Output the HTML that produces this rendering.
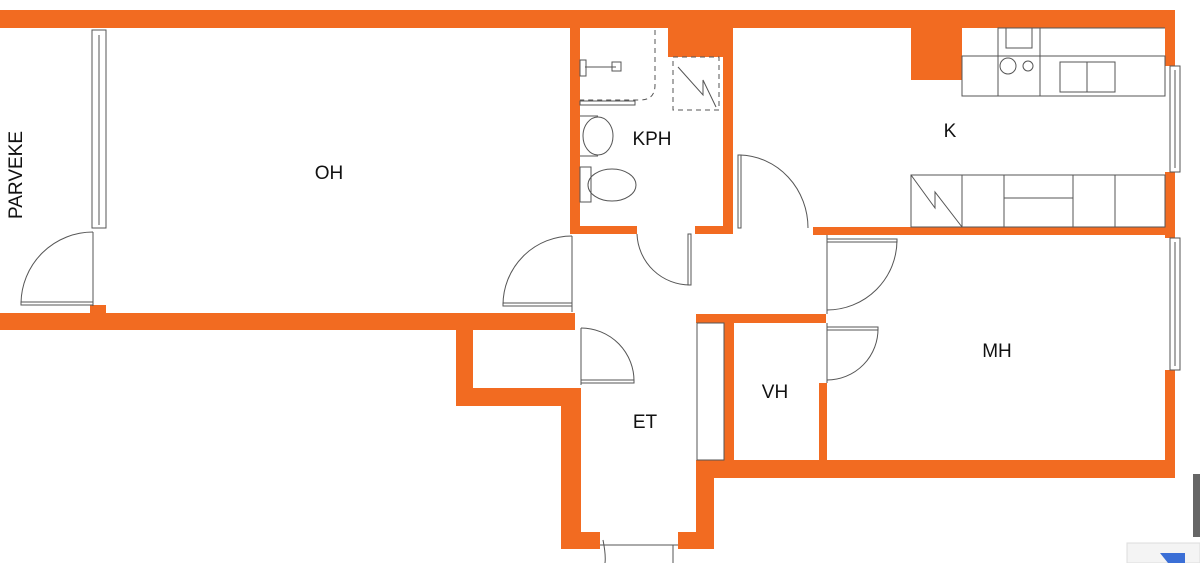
<!DOCTYPE html>
<html><head><meta charset="utf-8"><style>
html,body{margin:0;padding:0;background:#fff;width:1200px;height:563px;overflow:hidden}
svg{display:block}
text{font-family:"Liberation Sans",sans-serif;font-size:19px;fill:#111}
</style></head><body>
<svg width="1200" height="563" viewBox="0 0 1200 563" xmlns="http://www.w3.org/2000/svg">
<g fill="#F26B21">
<!-- top wall -->
<rect x="0" y="10" width="1175" height="18"/>
<!-- right wall pieces -->
<rect x="1165" y="10" width="10" height="56"/>
<rect x="1165" y="172" width="10" height="66"/>
<rect x="1165" y="370" width="10" height="108"/>
<!-- OH bottom wall -->
<rect x="0" y="313" width="575" height="17"/>
<rect x="90" y="305" width="16" height="10"/>
<!-- closet -->
<rect x="456" y="313" width="17" height="93"/>
<rect x="456" y="388" width="125" height="18"/>
<!-- ET left wall -->
<rect x="561" y="388" width="20" height="161"/>
<rect x="561" y="532" width="39" height="17"/>
<!-- ET right wall -->
<rect x="696" y="460" width="18" height="89"/>
<rect x="678" y="532" width="36" height="17"/>
<!-- bottom wall MH -->
<rect x="696" y="460" width="479" height="18"/>
<!-- VH -->
<rect x="696" y="314" width="130" height="9"/>
<rect x="724" y="314" width="10" height="146"/>
<rect x="819" y="383" width="8" height="77"/>
<!-- KPH -->
<rect x="570" y="10" width="10" height="224"/>
<rect x="723" y="10" width="10" height="224"/>
<rect x="668" y="10" width="65" height="47"/>
<rect x="570" y="226" width="67" height="8"/>
<rect x="695" y="226" width="38" height="8"/>
<!-- kitchen -->
<rect x="911" y="10" width="51" height="70"/>
<rect x="813" y="227" width="362" height="8"/>
</g>
<g fill="none" stroke="#555" stroke-width="1">
<!-- balcony window + door -->
<rect x="92" y="30" width="14" height="198"/>
<line x1="99" y1="35" x2="99" y2="225"/>
<line x1="93" y1="232" x2="93" y2="306"/>
<path d="M93 232 A72 72 0 0 0 21 303"/>
<rect x="21" y="302" width="72" height="3"/>
<!-- OH-ET door -->
<line x1="572" y1="236" x2="572" y2="312"/>
<path d="M572 236 A69 69 0 0 0 503 305"/>
<rect x="503" y="303" width="69" height="3"/>
<!-- closet door -->
<line x1="581" y1="328" x2="581" y2="385"/>
<path d="M581 328 A53 53 0 0 1 634 382"/>
<rect x="581" y="380" width="53" height="3"/>
<!-- KPH door -->
<path d="M637 234 A53 53 0 0 0 690 285"/>
<rect x="688" y="234" width="3" height="51"/>
<!-- kitchen door -->
<rect x="738" y="155" width="3" height="73"/>
<path d="M740 155 A70 73 0 0 1 808 228"/>
<!-- MH door -->
<line x1="827" y1="235" x2="827" y2="314"/>
<rect x="827" y="239" width="70" height="3"/>
<path d="M897 240 A70 70 0 0 1 827 310"/>
<!-- VH/MH door -->
<line x1="827" y1="323" x2="827" y2="383"/>
<rect x="827" y="327" width="51" height="3"/>
<path d="M878 328 A51 51 0 0 1 827 380"/>
<!-- wardrobe -->
<rect x="697" y="323" width="27" height="137"/>
<!-- entrance -->
<line x1="600" y1="545" x2="678" y2="545"/>
<path d="M603 540 Q606 555 605 563"/>
<line x1="673" y1="545" x2="673" y2="563"/>
<!-- right windows -->
<rect x="1170" y="66" width="10" height="106"/>
<rect x="1170" y="238" width="10" height="132"/>
<line x1="1175" y1="70" x2="1175" y2="168"/>
<line x1="1175" y1="242" x2="1175" y2="366"/>
<!-- kitchen upper counter -->
<rect x="962" y="56" width="203" height="40"/>
<rect x="998" y="28" width="42" height="68"/>
<rect x="1006" y="28" width="26" height="20"/>
<circle cx="1008" cy="66" r="8"/><circle cx="1028" cy="66" r="5"/>
<line x1="1040" y1="56" x2="1165" y2="56"/>
<line x1="1040" y1="28" x2="1165" y2="28"/>
<rect x="1060" y="62" width="55" height="30"/>
<line x1="1087" y1="62" x2="1087" y2="92"/>
<!-- kitchen lower counter -->
<rect x="911" y="175" width="254" height="52"/>
<line x1="962" y1="175" x2="962" y2="227"/>
<line x1="1004" y1="175" x2="1004" y2="227"/>
<line x1="1073" y1="175" x2="1073" y2="227"/>
<line x1="1115" y1="175" x2="1115" y2="227"/>
<line x1="1004" y1="198" x2="1073" y2="198"/>
<path d="M911 175 L935 208 L935 192 L962 227"/>
<!-- KPH fixtures -->
<rect x="673" y="57" width="46" height="53" stroke-dasharray="5,4"/>
<path d="M678 67 L703 95 L703 80 L716 107"/>
<path d="M655 30 L655 85 Q655 100 640 100 L580 100" stroke-dasharray="5,4"/>
<rect x="580" y="101" width="55" height="4"/>
<line x1="585" y1="67" x2="616" y2="67"/><rect x="612" y="62" width="9" height="9"/>
<rect x="580" y="60" width="6" height="16"/>
<ellipse cx="598" cy="136" rx="15" ry="19"/>
<path d="M580 116 L598 116 M580 156 L598 156"/>
<rect x="580" y="167" width="11" height="35"/>
<ellipse cx="612" cy="185" rx="24" ry="16"/>
</g>
<text x="329" y="179" text-anchor="middle">OH</text>
<text x="652" y="145" text-anchor="middle">KPH</text>
<text x="950" y="137" text-anchor="middle">K</text>
<text x="997" y="357" text-anchor="middle">MH</text>
<text x="775" y="398" text-anchor="middle">VH</text>
<text x="645" y="428" text-anchor="middle">ET</text>
<text transform="translate(22,175) rotate(-90)" text-anchor="middle">PARVEKE</text>
<rect x="1193" y="474" width="7" height="63" fill="#666"/>
<rect x="1127" y="543" width="73" height="20" fill="#f4f4f4" stroke="#ddd"/>
<path d="M1160 553 L1185 553 L1185 563 L1168 563 Z" fill="#3b6fd6"/>
</svg>
</body></html>
